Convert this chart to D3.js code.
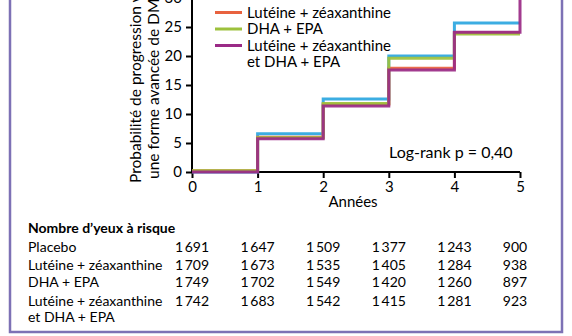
<!DOCTYPE html>
<html>
<head>
<meta charset="utf-8">
<script src="https://cdn.jsdelivr.net/npm/d3@7/dist/d3.min.js"></script>
<style>
  html, body { margin: 0; padding: 0; background: #fff; }
  svg { display: block; font-family: Lato, "Open Sans", sans-serif; }
</style>
</head>
<body>
<svg id="chart" width="572" height="336"></svg>
<script>
// ---- data ----
const years = [0, 1, 2, 3, 4, 5];
const seriesNames = ["Placebo", "Lutéine + zéaxanthine", "DHA + EPA", "Lutéine + zéaxanthine et DHA + EPA"];
const seriesColors = ["#2ba6df", "#e8623f", "#9dc13c", "#9a2a86"];
const placebo = [0, 6.6, 12.6, 20.0, 25.7, 25.7];
const luteine = [0.2, 6.0, 11.7, 17.9, 24.0, 24.0];
const dhaEpa = [0.2, 5.9, 11.8, 19.6, 23.8, 23.8];
const combo = [0, 5.75, 11.4, 17.6, 24.1, 31];
const yTicks = [0, 5, 10, 15, 20, 25, 30];
const xTicks = [0, 1, 2, 3, 4, 5];
const riskTitle = "Nombre d\u2019yeux à risque";
const riskLabels = [["Placebo"], ["Lutéine + zéaxanthine"], ["DHA + EPA"], ["Lutéine + zéaxanthine", "et DHA + EPA"]];
const riskPlacebo = [1691, 1647, 1509, 1377, 1243, 900];
const riskLuteine = [1709, 1673, 1535, 1405, 1284, 938];
const riskDha = [1749, 1702, 1549, 1420, 1260, 897];
const riskCombo = [1742, 1683, 1542, 1415, 1281, 923];
const legendLabels = [["Placebo"], ["Lutéine + zéaxanthine"], ["DHA + EPA"], ["Lutéine + zéaxanthine", "et DHA + EPA"]];
const yTitle = ["Probabilité de progression vers", "une forme avancée de DMLA (%)"];
const xTitle = "Années";
const logRank = "Log-rank p = 0,40";

const series = [placebo, luteine, dhaEpa, combo];
const risks = [riskPlacebo, riskLuteine, riskDha, riskCombo];

const svg = d3.select("#chart");
const x = d3.scaleLinear().domain([0, 5]).range([192, 520]);
const y = d3.scaleLinear().domain([0, 30]).range([172, -2]);

// frame
svg.append("path")
  .attr("d", "M10,-10 L10,332 L562,332 L562,-10")
  .attr("fill", "none").attr("stroke", "#7d71b5").attr("stroke-width", 2.5);

// y axis
const yAxis = svg.append("g").attr("transform", `translate(${x(0)},0)`)
  .call(d3.axisLeft(y).tickValues(yTicks).tickSize(6).tickPadding(4).tickFormat(d3.format("d")));
yAxis.select(".domain").attr("d", `M0,${y(0)}V-10`).attr("stroke", "#000").attr("stroke-width", 2);
yAxis.selectAll(".tick line").attr("stroke", "#000").attr("stroke-width", 2);
yAxis.selectAll(".tick text").attr("font-size", 15).attr("fill", "#000").attr("font-family", "Lato");

// x axis
const xAxis = svg.append("g").attr("transform", `translate(0,${y(0)})`)
  .call(d3.axisBottom(x).tickValues(xTicks).tickSize(6).tickPadding(3).tickFormat(d3.format("d")));
xAxis.select(".domain").attr("d", `M${x(0)},0H${x(5)}`).attr("stroke", "#000").attr("stroke-width", 2);
xAxis.selectAll(".tick line").attr("stroke", "#000").attr("stroke-width", 2);
xAxis.selectAll(".tick text").attr("font-size", 15).attr("fill", "#000").attr("font-family", "Lato");

// step lines
const line = d3.line().x((d, i) => x(years[i])).y(d => y(d)).curve(d3.curveStepAfter);
series.forEach((s, k) => {
  svg.append("path").datum(s)
    .attr("d", line)
    .attr("fill", "none")
    .attr("stroke", seriesColors[k])
    .attr("stroke-width", 3)
    .attr("stroke-opacity", 0.92);
});

// legend
const lg = svg.append("g");
const legendY = [-8, 12.5, 29, 45.5];
legendLabels.forEach((lab, k) => {
  const ly = legendY[k];
  lg.append("line").attr("x1", 215).attr("x2", 242).attr("y1", ly).attr("y2", ly)
    .attr("stroke", seriesColors[k]).attr("stroke-width", 3);
  lab.forEach((t, j) => {
    lg.append("text").attr("x", 247).attr("y", ly + 5 + j * 16.5)
      .attr("font-size", 15).attr("fill", "#000").text(t);
  });
});

// axis titles
const yt = svg.append("text").attr("transform", "translate(141,183) rotate(-90)")
  .attr("font-size", 15.5).attr("fill", "#000");
yt.append("tspan").attr("x", 0).attr("y", 0).text(yTitle[0]);
yt.append("tspan").attr("x", 4).attr("y", 17.5).text(yTitle[1]);

svg.append("text").attr("x", (x(0) + x(5)) / 2 - 3).attr("y", 207)
  .attr("text-anchor", "middle").attr("font-size", 15).attr("fill", "#000").text(xTitle);

svg.append("text").attr("x", 389).attr("y", 158)
  .attr("font-size", 16).attr("fill", "#000").text(logRank);

// risk table
svg.append("text").attr("x", 28).attr("y", 233).attr("font-size", 14)
  .attr("font-weight", "bold").attr("fill", "#000").text(riskTitle);
const rowY = [252, 270, 287, 306];
const fmt = v => v >= 1000 ? Math.floor(v / 1000) + "\u2009" + String(v % 1000).padStart(3, "0") : String(v);
riskLabels.forEach((lab, r) => {
  lab.forEach((t, j) => {
    svg.append("text").attr("x", 28).attr("y", rowY[r] + j * 16)
      .attr("font-size", 14).attr("fill", "#000").text(t);
  });
  risks[r].forEach((v, i) => {
    svg.append("text").attr("x", x(years[i]) + (i === 5 ? -5 : 0)).attr("y", rowY[r])
      .attr("text-anchor", "middle").attr("font-size", 14).attr("fill", "#000").text(fmt(v));
  });
});
</script>
</body>
</html>
